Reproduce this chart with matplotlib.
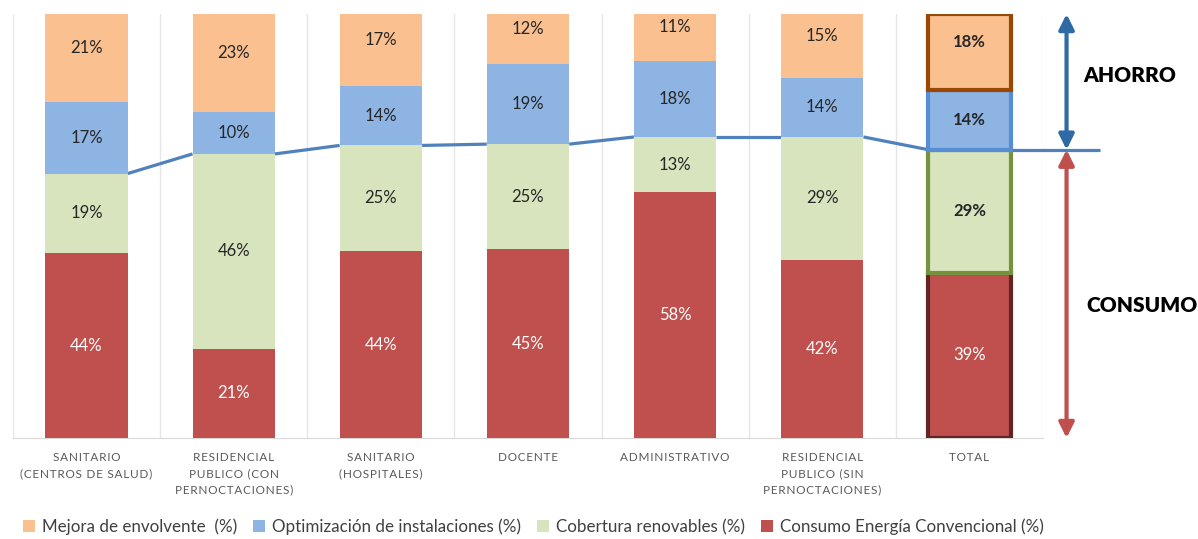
import matplotlib.pyplot as plt
import numpy as np

plt.rcParams['font.family'] = ['Lato', 'DejaVu Sans']

# categorias y valores (%)
categorias = ['SANITARIO\n(CENTROS DE SALUD)', 'RESIDENCIAL\nPUBLICO (CON\nPERNOCTACIONES)',
              'SANITARIO\n(HOSPITALES)', 'DOCENTE', 'ADMINISTRATIVO',
              'RESIDENCIAL\nPUBLICO (SIN\nPERNOCTACIONES)', 'TOTAL']
consumo = [44, 21, 44, 45, 58, 42, 39]
renovables = [19, 46, 25, 25, 13, 29, 29]
optimizacion = [17, 10, 14, 19, 18, 14, 14]
envolvente = [21, 23, 17, 12, 11, 15, 18]

nombres = ['Mejora de envolvente  (%)', 'Optimización de instalaciones (%)',
           'Cobertura renovables (%)', 'Consumo Energía Convencional (%)']

c_naranja = '#FAC090'
c_azul = '#8DB4E2'
c_verde = '#D7E4BD'
c_rojo = '#C0504D'


def espaciado(t):
    # letras separadas como en el original
    return '\n'.join('\u200a'.join(linea) for linea in t.split('\n'))


fig = plt.figure(figsize=(11.98, 5.39), dpi=100)
ax = fig.add_axes([13/1198, 1 - 438/539, 1030/1198, 424/539])

x = np.arange(len(categorias))
w = 0.56

# 100% apilado
tot = np.array(consumo) + np.array(renovables) + np.array(optimizacion) + np.array(envolvente)
series = [np.array(consumo) / tot * 100, np.array(renovables) / tot * 100,
          np.array(optimizacion) / tot * 100, np.array(envolvente) / tot * 100]
valores = [consumo, renovables, optimizacion, envolvente]
colores = [c_rojo, c_verde, c_azul, c_naranja]
bordes_total = ['#632523', '#76923C', '#558ED5', '#984807']
etiquetas = [nombres[3], nombres[2], nombres[1], nombres[0]]

handles = []
bottom = np.zeros(len(x))
for k in range(4):
    bars = ax.bar(x, series[k], w, bottom=bottom, color=colores[k], zorder=3,
                  label=etiquetas[k])
    handles.append(bars)
    # borde en la barra TOTAL
    last = bars[-1]
    last.set_edgecolor(bordes_total[k])
    last.set_linewidth(3)
    for i in range(len(x)):
        if k == 3:
            yl = (bottom[i] + 104.7) / 2
        else:
            yl = bottom[i] + series[k][i] / 2
        col = 'white' if k == 0 else '#262626'
        fw = 'bold' if (i == len(x) - 1 and k > 0) else 'normal'
        ax.text(x[i], yl, f'{valores[k][i]}%', ha='center', va='center',
                fontsize=12, color=col, fontweight=fw, zorder=5)
    bottom = bottom + series[k]

# linea consumo / ahorro (solo entre barras)
limite = series[0] + series[1]
for i in range(len(x) - 1):
    ax.plot([x[i] + w/2, x[i+1] - w/2], [limite[i], limite[i+1]],
            color='#4F81BD', lw=2.3, zorder=2, solid_capstyle='butt')
ax.plot([x[-1] + w/2, 6.89], [limite[-1], limite[-1]], color='#4F81BD',
        lw=2.3, zorder=2, clip_on=False, solid_capstyle='butt')

# flechas
xa = 6.66
ax.annotate('', xy=(xa, 100), xytext=(xa, limite[-1]), annotation_clip=False,
            arrowprops=dict(arrowstyle='<|-|>,head_width=0.45,head_length=0.9',
                            color='#2E6AA6', lw=3, shrinkA=0, shrinkB=0))
ax.annotate('', xy=(xa, 0), xytext=(xa, limite[-1]), annotation_clip=False,
            arrowprops=dict(arrowstyle='<|-|>,head_width=0.45,head_length=0.9',
                            color='#C0504D', lw=3, shrinkA=0, shrinkB=0))

fig.text(1130/1198, 1 - 75/539, 'AHORRO', ha='center', va='center',
         fontsize=15, fontweight='heavy', color='black')
fig.text(1142/1198, 1 - 305/539, 'CONSUMO', ha='center', va='center',
         fontsize=15, fontweight='heavy', color='black')

ax.set_xlim(-0.5, 6.5)
ax.set_ylim(0, 100)
ax.set_yticks([])
ax.set_xticks(x)
ax.set_xticklabels([espaciado(c) for c in categorias], fontsize=8.5,
                   color='#595959', linespacing=1.6)
ax.tick_params(axis='x', length=0, pad=10)
for s in ['top', 'left', 'right']:
    ax.spines[s].set_visible(False)
ax.spines['bottom'].set_color('#D9D9D9')
for b in np.arange(-0.5, 7, 1):
    ax.axvline(b, color='#E6E6E6', lw=1, zorder=0)

fig.legend([handles[3], handles[2], handles[1], handles[0]], nombres,
           loc='center left', bbox_to_anchor=(8/1198, 1 - 527/539), ncol=4,
           frameon=False, fontsize=12.25, handlelength=0.7, handleheight=0.7,
           handletextpad=0.4, columnspacing=0.95, labelcolor='#404040')

plt.savefig('out.png', dpi=100)
